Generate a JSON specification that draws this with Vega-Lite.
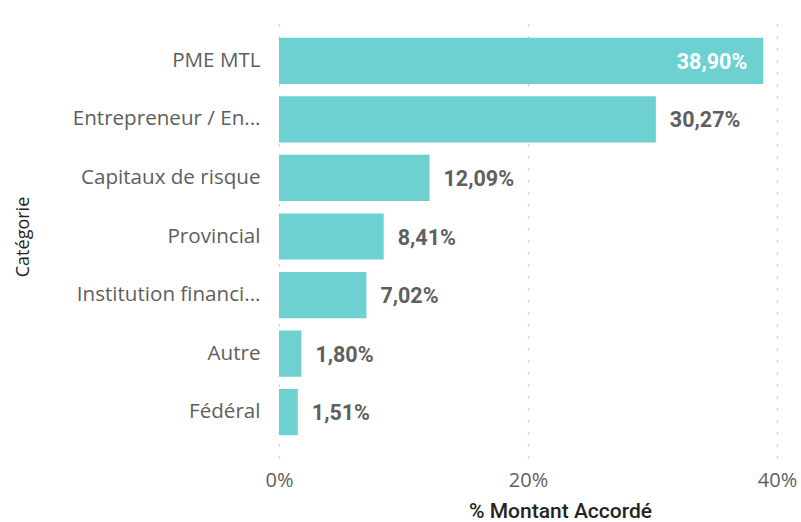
{
  "$schema": "https://vega.github.io/schema/vega-lite/v6.json",
  "width": 498,
  "height": 443,
  "autosize": {"type": "none"},
  "padding": {"left": 279, "top": 15, "right": 24, "bottom": 64},
  "background": "white",
  "config": {
    "view": {"stroke": null},
    "locale": {"number": {"decimal": ",", "thousands": " ", "grouping": [3], "currency": ["", " $"]}}
  },
  "data": {
    "values": [
      {"categorie": "PME MTL", "part": 0.3890},
      {"categorie": "Entrepreneur / En...", "part": 0.3027},
      {"categorie": "Capitaux de risque", "part": 0.1209},
      {"categorie": "Provincial", "part": 0.0841},
      {"categorie": "Institution financi...", "part": 0.0702},
      {"categorie": "Autre", "part": 0.0180},
      {"categorie": "Fédéral", "part": 0.0151}
    ]
  },
  "encoding": {
    "y": {
      "field": "categorie",
      "type": "nominal",
      "sort": ["PME MTL", "Entrepreneur / En...", "Capitaux de risque", "Provincial", "Institution financi...", "Autre", "Fédéral"],
      "scale": {"paddingInner": 0.21, "paddingOuter": 0.39},
      "axis": {
        "title": "Catégorie",
        "titleFont": "Open Sans",
        "titleFontSize": 18,
        "titleFontWeight": "normal",
        "titleColor": "#252423",
        "titleX": -247,
        "labelFont": "Open Sans",
        "labelFontSize": 20.6,
        "labelColor": "#605E5C",
        "labelPadding": 19,
        "labelLimit": 300,
        "ticks": false,
        "domain": false,
        "grid": false
      }
    },
    "x": {
      "field": "part",
      "type": "quantitative",
      "scale": {"domain": [0, 0.4], "nice": false},
      "axis": {
        "title": "% Montant Accordé",
        "format": ".0%",
        "values": [0, 0.2, 0.4],
        "titleFont": "Roboto",
        "titleFontSize": 21,
        "titleFontWeight": 500,
        "titleColor": "#252423",
        "titleX": 281,
        "titleY": 59,
        "titleBaseline": "alphabetic",
        "labelFont": "Open Sans",
        "labelFontSize": 20,
        "labelColor": "#605E5C",
        "labelPadding": 12,
        "labelFlush": false,
        "ticks": false,
        "domain": false,
        "grid": true,
        "gridColor": "#c8c8c8",
        "gridDash": [2, 10],
        "gridWidth": 1.5
      }
    }
  },
  "layer": [
    {"mark": {"type": "bar", "color": "#6DD1D1"}},
    {
      "transform": [{"filter": "datum.part < 0.35"}],
      "mark": {"type": "text", "align": "left", "baseline": "middle", "dx": 14, "dy": 2, "font": "Roboto", "fontSize": 21.5, "fontWeight": "bold", "color": "#5F5F5F"},
      "encoding": {"text": {"field": "part", "type": "quantitative", "format": ".2%"}}
    },
    {
      "transform": [{"filter": "datum.part >= 0.35"}],
      "mark": {"type": "text", "align": "right", "baseline": "middle", "dx": -16, "dy": 2, "font": "Roboto", "fontSize": 21.5, "fontWeight": "bold", "color": "#FFFFFF"},
      "encoding": {"text": {"field": "part", "type": "quantitative", "format": ".2%"}}
    }
  ]
}
